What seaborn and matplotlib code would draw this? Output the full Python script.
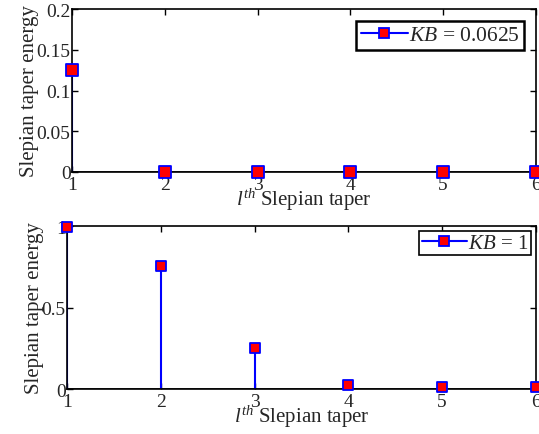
import matplotlib
matplotlib.use("Agg")
import matplotlib.pyplot as plt
import seaborn as sns
import pandas as pd
import numpy as np
from matplotlib.lines import Line2D
from matplotlib.legend_handler import HandlerLine2D

taper_index = [1, 2, 3, 4, 5, 6]
energy_kb_small = [0.125, 0.0, 0.0, 0.0, 0.0, 0.0]
energy_kb_one = [0.995, 0.755, 0.25, 0.025, 0.012, 0.01]
label_small = "$KB$ = 0.0625"
label_one = "$KB$ = 1"
top_yticks = [0, 0.05, 0.1, 0.15, 0.2]
top_yticklabels = ["0", "0.05", "0.1", "0.15", "0.2"]
bot_yticks = [0, 0.5, 1]
bot_yticklabels = ["0", "0.5", "1"]

sns.set_theme(style="ticks")
plt.rcParams["font.family"] = ["Liberation Serif", "DejaVu Serif"]
plt.rcParams["mathtext.fontset"] = "custom"
plt.rcParams["mathtext.rm"] = "Liberation Serif"
plt.rcParams["mathtext.it"] = "Liberation Serif:italic"
plt.rcParams["axes.linewidth"] = 1.2
plt.rcParams["xtick.direction"] = "in"
plt.rcParams["ytick.direction"] = "in"


class HandlerEndMarker(HandlerLine2D):
    def get_xdata(self, legend, xdescent, ydescent, width, height, fontsize):
        xdata = np.array([-xdescent, -xdescent + width])
        return xdata, np.array([-xdescent + width])


fig = plt.figure(figsize=(5.39, 4.35), dpi=100)
ax1 = fig.add_axes([0.1336, 0.6023, 0.8608, 0.3747])
ax2 = fig.add_axes([0.1243, 0.1034, 0.8701, 0.3747])


def draw(ax, vals, label, yticks, yticklabels, ylim, legend_fs, legend_lw,
         msize, pad_axes, bpad):
    df = pd.DataFrame({"l": taper_index, "e": vals})
    ax.vlines(df["l"], 0, df["e"], color="blue", lw=1.5, zorder=2)
    sns.scatterplot(data=df, x="l", y="e", ax=ax, marker="s", s=msize,
                    color="red", edgecolor="blue", linewidth=1.3, zorder=3,
                    clip_on=False, legend=False)
    ax.axhline(0, color="black", lw=1.2, zorder=1)
    ax.set_xlim(1, 6)
    ax.set_ylim(*ylim)
    ax.set_xticks(taper_index)
    ax.set_xticklabels([str(i) for i in taper_index])
    ax.set_yticks(yticks)
    ax.set_yticklabels(yticklabels)
    ax.tick_params(axis="both", labelsize=14, top=True, right=True, length=4,
                   width=1.0, color="black")
    ax.tick_params(axis="x", pad=3)
    ax.tick_params(axis="y", pad=1)
    ax.set_xlabel("$l^{th}$ Slepian taper", fontsize=15, labelpad=-5)
    ax.set_ylabel("Slepian taper energy", fontsize=15, labelpad=-2)
    for s in ax.spines.values():
        s.set_visible(True)
        s.set_color("black")
    h = Line2D([0], [0], color="blue", lw=1.5, marker="s", markersize=7.5,
               markerfacecolor="red", markeredgecolor="blue", markeredgewidth=1.3)
    leg = ax.legend([h], [label], loc="upper right", fontsize=legend_fs,
                    handler_map={h: HandlerEndMarker()}, fancybox=False,
                    framealpha=1, edgecolor="black", borderpad=bpad,
                    handlelength=2.2, handletextpad=0.05, borderaxespad=pad_axes)
    leg.get_frame().set_linewidth(legend_lw)


draw(ax1, energy_kb_small, label_small, top_yticks, top_yticklabels, (0, 0.2),
     15.5, 1.8, 65, 0.55, 0.2)
draw(ax2, energy_kb_one, label_one, bot_yticks, bot_yticklabels, (0, 1),
     15, 1.2, 60, 0.25, 0.1)

fig.savefig("out.png", dpi=100)
